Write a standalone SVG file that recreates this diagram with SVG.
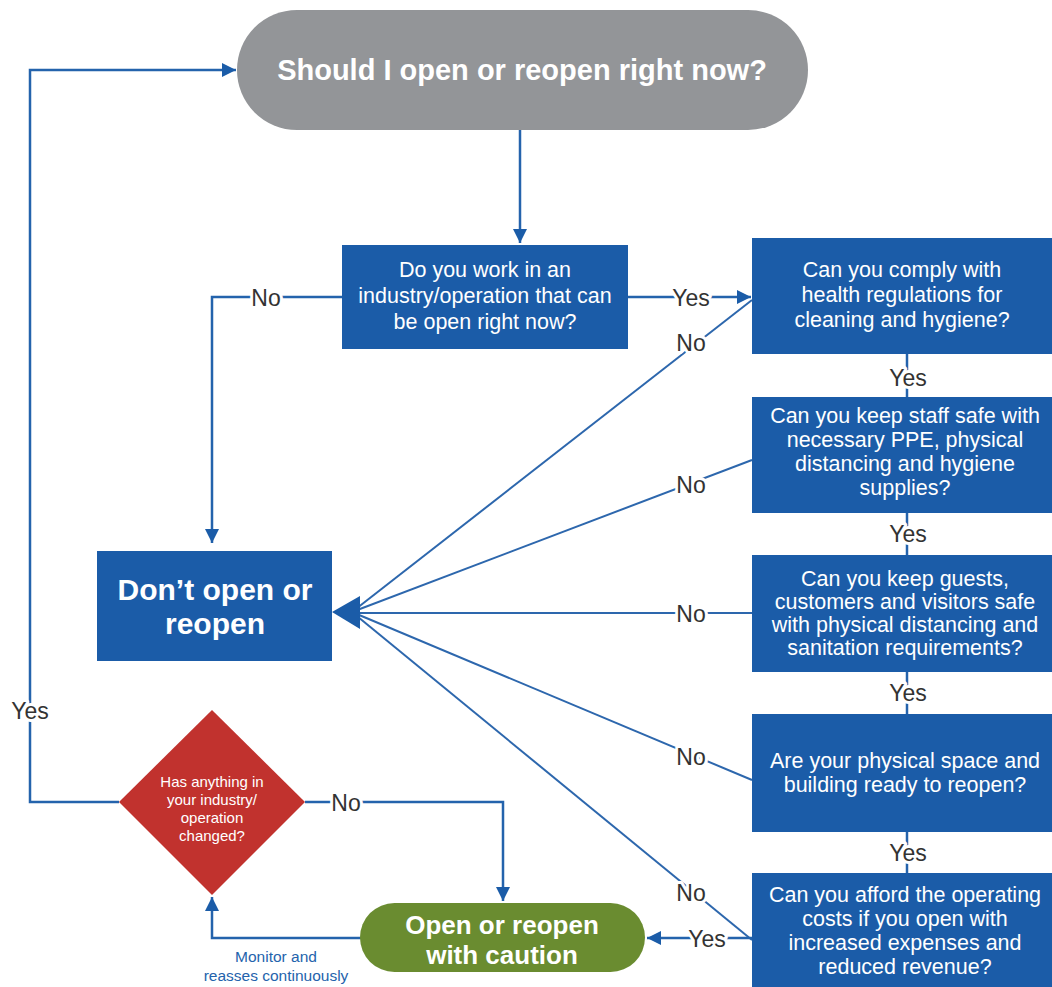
<svg xmlns="http://www.w3.org/2000/svg" width="1052" height="987" viewBox="0 0 1052 987">
<defs>
<style>
.bx{fill:#1b5ca8}
.t{font-family:"Liberation Sans",Arial,sans-serif;fill:#fff;text-anchor:middle}
.q{font-size:21.5px}
.ln{fill:none;stroke:#2463ac;stroke-width:2.5}
.dl{fill:none;stroke:#2d67ad;stroke-width:2}
.lb{font-family:"Liberation Sans",Arial,sans-serif;font-size:23px;fill:#333;text-anchor:middle;paint-order:stroke;stroke:#fff;stroke-width:6px;stroke-linejoin:round}
</style>
<marker id="ah" viewBox="0 0 10 10" refX="10" refY="5" markerWidth="14" markerHeight="14" markerUnits="userSpaceOnUse" orient="auto">
<path d="M0,0 L10,5 L0,10 z" fill="#1b5ca8"/>
</marker>
</defs>
<rect width="1052" height="987" fill="#fff"/>

<g id="connectors">
<path class="ln" d="M520,130 V243" marker-end="url(#ah)"/>
<path class="ln" d="M342,297 H212 V543" marker-end="url(#ah)"/>
<path class="ln" d="M628,297 H751" marker-end="url(#ah)"/>
<path class="ln" d="M907,354 V397"/>
<path class="ln" d="M907,513 V555"/>
<path class="ln" d="M907,672 V714"/>
<path class="ln" d="M907,832 V873"/>
<path class="dl" d="M752,300 L352,612"/>
<path class="dl" d="M752,460 L352,612"/>
<path class="dl" d="M752,613 L352,613"/>
<path class="dl" d="M752,780 L352,612"/>
<path class="dl" d="M752,940 L352,612"/>
<polygon points="332,612 360,596 360,629" fill="#1b5ca8"/>
<path class="ln" d="M752,938 H647" marker-end="url(#ah)"/>
<path class="ln" d="M119,802 H30 V70 H236" marker-end="url(#ah)"/>
<path class="ln" d="M305,802 H503 V901" marker-end="url(#ah)"/>
<path class="ln" d="M362,938 H212 V897" marker-end="url(#ah)"/>
<text class="lb" x="266" y="306">No</text>
<text class="lb" x="691" y="306">Yes</text>
<text class="lb" x="691" y="351">No</text>
<text class="lb" x="691" y="493">No</text>
<text class="lb" x="691" y="622">No</text>
<text class="lb" x="691" y="765">No</text>
<text class="lb" x="691" y="901">No</text>
<text class="lb" x="908" y="386">Yes</text>
<text class="lb" x="908" y="542">Yes</text>
<text class="lb" x="908" y="701">Yes</text>
<text class="lb" x="908" y="861">Yes</text>
<text class="lb" x="707" y="947">Yes</text>
<text class="lb" x="30" y="719">Yes</text>
<text class="lb" x="346" y="811">No</text>
<text font-family="Liberation Sans,Arial,sans-serif" font-size="15.5" fill="#2463ac" text-anchor="middle"><tspan x="276" y="962">Monitor and</tspan><tspan x="276" y="981">reasses continuously</tspan></text>
</g>

<g id="start">
<rect x="237" y="10" width="571" height="120" rx="60" fill="#939598"/>
<text class="t" x="522" y="80" font-size="29" font-weight="bold">Should I open or reopen right now?</text>
</g>

<g id="q-industry">
<rect class="bx" x="342" y="245" width="286" height="104"/>
<text class="t q"><tspan x="485" y="277">Do you work in an</tspan><tspan x="485" y="303">industry/operation that can</tspan><tspan x="485" y="329">be open right now?</tspan></text>
</g>

<g id="q-health">
<rect class="bx" x="752" y="238" width="300" height="116"/>
<text class="t q"><tspan x="902" y="277">Can you comply with</tspan><tspan x="902" y="302">health regulations for</tspan><tspan x="902" y="327">cleaning and hygiene?</tspan></text>
</g>

<g id="q-staff">
<rect class="bx" x="752" y="397" width="300" height="116"/>
<text class="t q"><tspan x="905" y="423">Can you keep staff safe with</tspan><tspan x="905" y="447">necessary PPE, physical</tspan><tspan x="905" y="471">distancing and hygiene</tspan><tspan x="905" y="495">supplies?</tspan></text>
</g>

<g id="q-guests">
<rect class="bx" x="752" y="555" width="300" height="117"/>
<text class="t q"><tspan x="905" y="586">Can you keep guests,</tspan><tspan x="905" y="609">customers and visitors safe</tspan><tspan x="905" y="632">with physical distancing and</tspan><tspan x="905" y="655">sanitation requirements?</tspan></text>
</g>

<g id="q-space">
<rect class="bx" x="752" y="714" width="300" height="118"/>
<text class="t q"><tspan x="905" y="768">Are your physical space and</tspan><tspan x="905" y="792">building ready to reopen?</tspan></text>
</g>

<g id="q-costs">
<rect class="bx" x="752" y="873" width="300" height="114"/>
<text class="t q"><tspan x="905" y="902">Can you afford the operating</tspan><tspan x="905" y="926">costs if you open with</tspan><tspan x="905" y="950">increased expenses and</tspan><tspan x="905" y="974">reduced revenue?</tspan></text>
</g>

<g id="dont-open">
<rect class="bx" x="97" y="551" width="235" height="110"/>
<text class="t" font-size="30" font-weight="bold"><tspan x="215" y="600">Don’t open or</tspan><tspan x="215" y="634">reopen</tspan></text>
</g>

<g id="open-caution">
<rect x="360" y="903" width="285" height="69" rx="34.5" fill="#6a8c30"/>
<text class="t" font-size="26" font-weight="bold"><tspan x="502" y="934">Open or reopen</tspan><tspan x="502" y="964">with caution</tspan></text>
</g>

<g id="changed">
<polygon points="212,710 305,802 212,895 119,802" fill="#c1322e"/>
<text class="t" font-size="15"><tspan x="212" y="787">Has anything in</tspan><tspan x="212" y="805">your industry/</tspan><tspan x="212" y="823">operation</tspan><tspan x="212" y="841">changed?</tspan></text>
</g>
</svg>
